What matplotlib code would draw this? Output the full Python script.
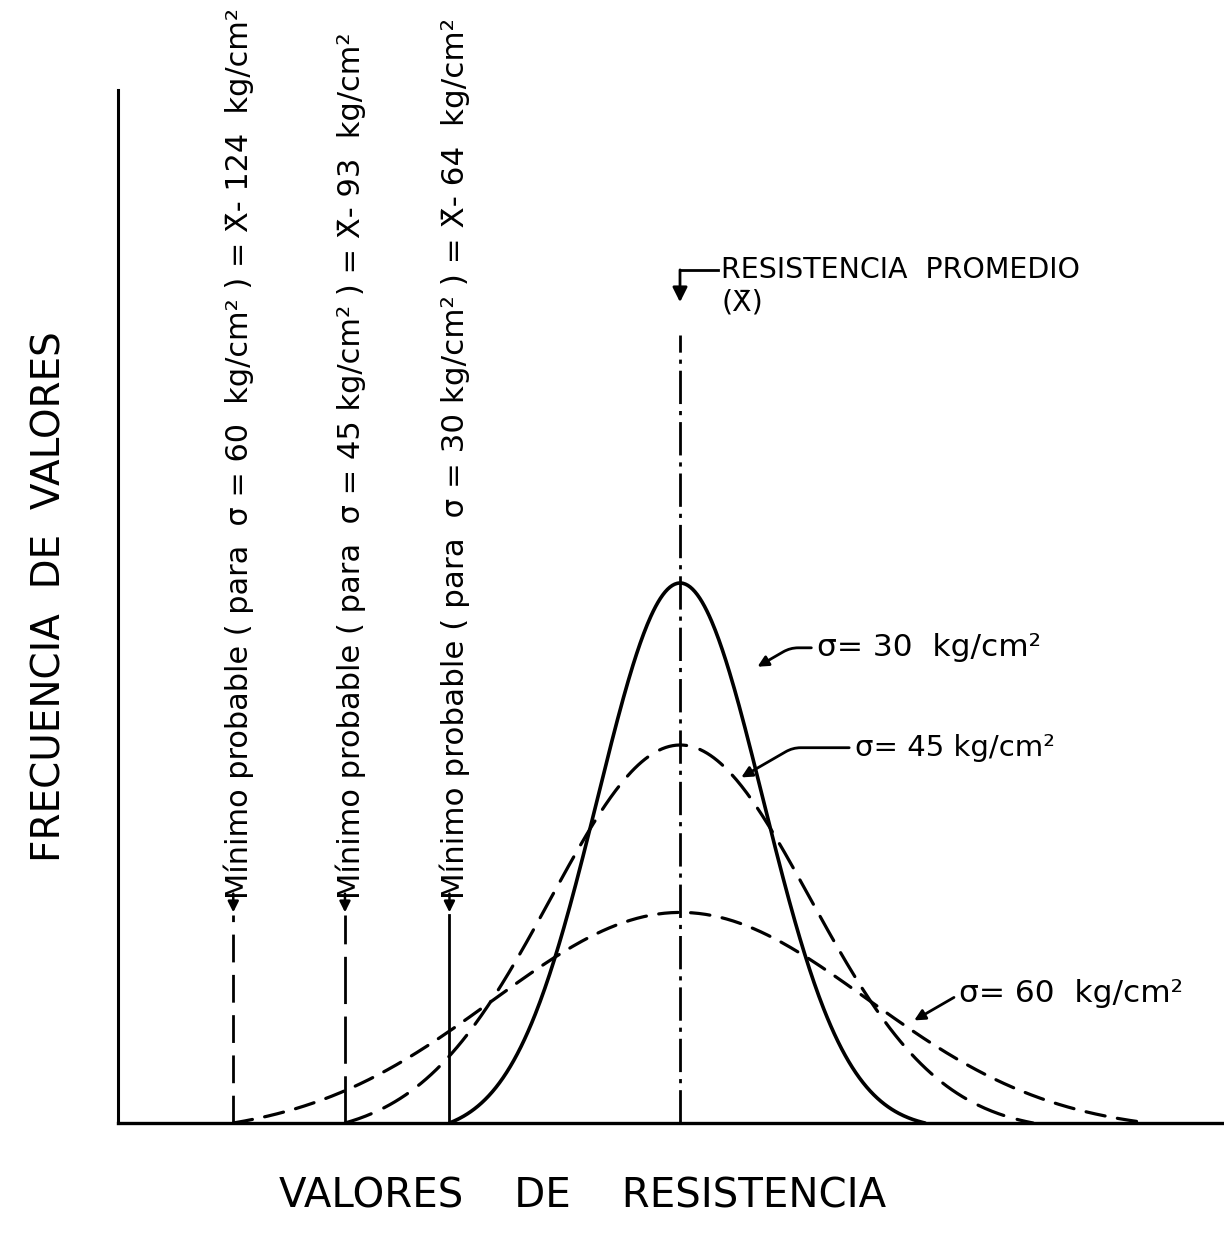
import numpy as np
import matplotlib.pyplot as plt

plt.rcParams['font.family'] = ['DejaVu Sans']
plt.rcParams['lines.scale_dashes'] = False

# standard deviations (kg/cm2) and what the sketch shows for each curve
sigmas = [30, 45, 60]
min_offsets = [64, 93, 124]        # minimo probable = Xbar - offset
end_offsets = [68, 98, 130]        # where each curve meets the axis on the right
peak_heights = [1.0, 0.70, 0.39]   # relative frequency at the mean
drawn_spread = [23, 36, 52]        # apparent spread of the hand drawn curves
curve_styles = ['-', (0, (20, 10)), (0, (14, 9))]

min_labels = [
    u'Mínimo probable ( para  σ = 30 kg/cm² ) = X̄- 64  kg/cm²',
    u'Mínimo probable ( para  σ = 45 kg/cm² ) = X̄- 93  kg/cm²',
    u'Mínimo probable ( para  σ = 60  kg/cm² ) = X̄- 124  kg/cm²',
]
curve_labels = [u'σ= 30  kg/cm²', u'σ= 45 kg/cm²', u'σ= 60  kg/cm²']
min_line_styles = ['-', (0, (34, 9)), (0, (20, 9))]

fig = plt.figure(figsize=(12.24, 12.44), dpi=100)
ax = fig.add_axes([118 / 1224, 121 / 1244, 1 - 118 / 1224, 1033 / 1244])
ax.set_xlim(-156, 151)
ax.set_ylim(0, 1.913)
for s in ['top', 'right']:
    ax.spines[s].set_visible(False)
ax.spines['left'].set_linewidth(2.2)
ax.spines['bottom'].set_linewidth(2.4)
ax.set_xticks([])
ax.set_yticks([])

# frequency curves
for i in range(3):
    xl, xr, s = -min_offsets[i], end_offsets[i], drawn_spread[i]
    x = np.linspace(xl, xr, 400)
    g = np.exp(-x ** 2 / (2 * s ** 2))
    gl = np.exp(-xl ** 2 / (2 * s ** 2))
    gr = np.exp(-xr ** 2 / (2 * s ** 2))
    base = gl + (gr - gl) * (x - xl) / (xr - xl)
    base0 = gl + (gr - gl) * (0 - xl) / (xr - xl)
    y = peak_heights[i] * (g - base) / (1 - base0)
    ax.plot(x, np.clip(y, 0, None), color='black', lw=2.6 if i == 0 else 2.3,
            linestyle=curve_styles[i], solid_capstyle='round', dash_capstyle='round')

# minimo probable lines with their labels
arrow_tip = 0.385
label_sizes = [22.3, 22, 21.9]
for i in range(3):
    m = -min_offsets[i]
    ax.plot([m, m], [0, arrow_tip], color='black', lw=2.0, linestyle=min_line_styles[i])
    ax.annotate('', xy=(m, arrow_tip), xytext=(m, 0.43),
                arrowprops=dict(arrowstyle='-|>', color='black', lw=1.8,
                                mutation_scale=16))
    ax.text(m + 1.5, 0.415, min_labels[i], rotation=90, ha='center', va='bottom',
            fontsize=label_sizes[i], color='black')

# mean line
ax.plot([0, 0], [0, 1.46], color='black', lw=2.0, linestyle=(0, (24, 5, 3, 5)))
ax.plot([0, 10.5], [1.58, 1.58], color='black', lw=2.0)
ax.annotate('', xy=(0, 1.515), xytext=(0, 1.585),
            arrowprops=dict(arrowstyle='-|>', color='black', lw=2.0, mutation_scale=22))
ax.text(11.5, 1.58, 'RESISTENCIA  PROMEDIO', ha='left', va='center', fontsize=20.5)
ax.text(11.5, 1.52, u'(X̄)', ha='left', va='center', fontsize=20.5)

# labels of each curve with their pointer
label_pos = [(38, 0.88), (48.5, 0.695), (77.5, 0.24)]
pointer_tip = [(21.5, 0.845), (17, 0.64), (65, 0.19)]
label_font = [22.5, 21, 22.5]
for i in range(3):
    lx, ly = label_pos[i]
    ax.annotate(curve_labels[i], xy=pointer_tip[i], xytext=(lx, ly),
                ha='left', va='center', fontsize=label_font[i],
                arrowprops=dict(arrowstyle='-|>', color='black', lw=2.0,
                                mutation_scale=16, shrinkA=2, shrinkB=0,
                                connectionstyle='angle,angleA=180,angleB=30,rad=8'))

fig.text(50 / 1224, 1 - 597 / 1244, 'FRECUENCIA  DE  VALORES', rotation=90,
         ha='center', va='center', fontsize=28)
fig.text(583 / 1224, 1 - 1197 / 1244, 'VALORES    DE    RESISTENCIA', ha='center',
         va='center', fontsize=29)

fig.savefig('out.png', dpi=100)
